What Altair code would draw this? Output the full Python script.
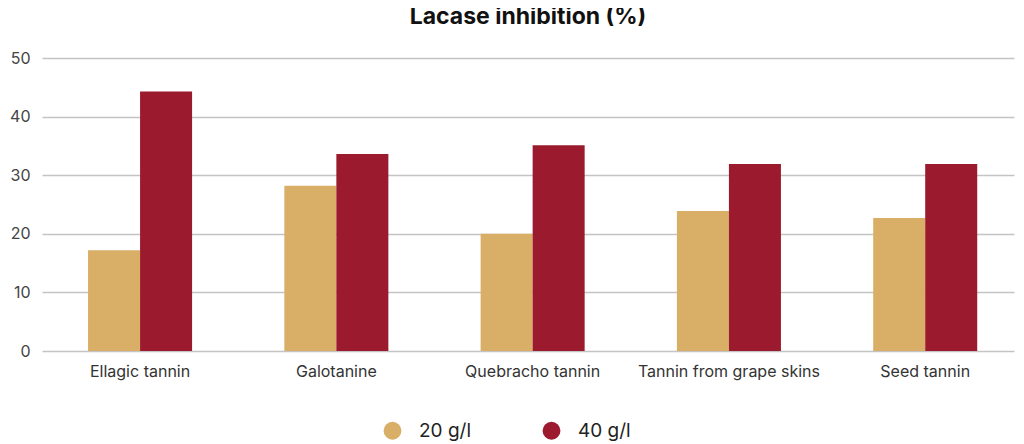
import altair as alt
import pandas as pd

categories = ["Ellagic tannin", "Galotanine", "Quebracho tannin", "Tannin from grape skins", "Seed tannin"]
dose_20 = [17.2, 28.2, 20.0, 23.9, 22.7]
dose_40 = [44.3, 33.6, 35.1, 31.9, 31.9]
series = ["20 g/l", "40 g/l"]
colors = ["#D9AE66", "#9B1A2E"]

rows = []
for c, a, b in zip(categories, dose_20, dose_40):
    rows.append({"cat": c, "dose": series[0], "val": a})
    rows.append({"cat": c, "dose": series[1], "val": b})
df = pd.DataFrame(rows)

FONT = "Inter"

chart = alt.Chart(df).mark_bar().encode(
    x=alt.X("cat:N", sort=categories, title=None,
            scale=alt.Scale(paddingInner=0.47, paddingOuter=0.211, align=0.556),
            axis=alt.Axis(labelAngle=0, labelFontSize=16, labelColor="#333333",
                          labelFont=FONT, labelPadding=12, labelLimit=400,
                          ticks=False, domain=False)),
    xOffset=alt.XOffset("dose:N", sort=series),
    y=alt.Y("val:Q", title=None, scale=alt.Scale(domain=[0, 50]),
            axis=alt.Axis(values=[0, 10, 20, 30, 40, 50], labelFontSize=16, labelColor="#444444",
                          labelFont=FONT, labelPadding=12, ticks=False, domain=False,
                          gridColor="#C4C4C4", gridWidth=1.5)),
    color=alt.Color("dose:N", sort=series, scale=alt.Scale(domain=series, range=colors),
                    legend=alt.Legend(title=None, orient="none", direction="horizontal",
                                      legendX=341, legendY=363, symbolType="circle",
                                      symbolSize=320, symbolStrokeWidth=0, labelFontSize=19,
                                      labelFont=FONT, labelColor="#222222", labelOffset=17,
                                      columnPadding=70)),
).properties(
    width=972, height=293,
    title=alt.Title("Lacase inhibition (%)", fontSize=23, font=FONT, fontWeight="bold",
                    color="#111111", anchor="middle", offset=21),
    autosize=alt.AutoSizeParams(type="none"),
    padding={"left": 34, "top": 50, "right": 2, "bottom": 92},
).configure_view(stroke=None)

chart.save("out.html", embed_options={"renderer": "svg", "actions": False})
